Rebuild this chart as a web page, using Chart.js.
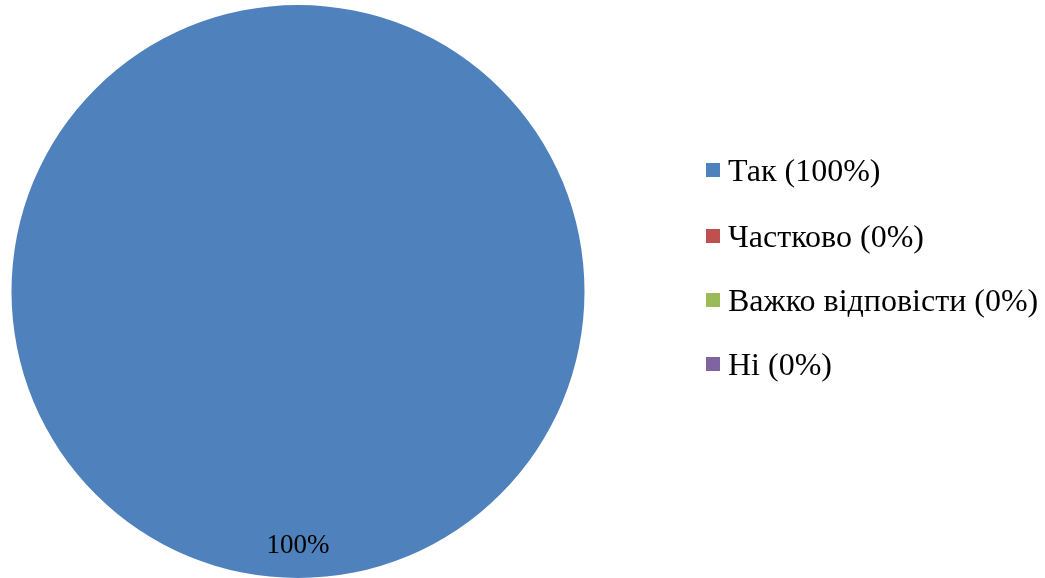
<!DOCTYPE html>
<html>
<head>
<meta charset="utf-8">
<script src="https://cdn.jsdelivr.net/npm/chart.js@4/dist/chart.umd.min.js"></script>
<style>
html,body{margin:0;padding:0;background:#fff;}
#wrap{position:relative;width:1045px;height:578px;}
</style>
</head>
<body>
<div id="wrap"><canvas id="c" width="1045" height="578"></canvas></div>
<script>
const categories = ["Так (100%)", "Частково (0%)", "Важко відповісти (0%)", "Ні (0%)"];
const values = [100, 0, 0, 0];
const valueLabels = ["100%", "0%", "0%", "0%"];
const colors = ["#4F81BD", "#C0504D", "#9BBB59", "#8064A2"];

const FONT = "'Liberation Serif', 'Times New Roman', serif";

const labelPlugin = {
  id: 'sliceLabels',
  afterDatasetsDraw(chart) {
    const ctx = chart.ctx;
    const meta = chart.getDatasetMeta(0);
    ctx.save();
    ctx.font = "27px " + FONT;
    ctx.fillStyle = "#000";
    ctx.textAlign = "center";
    ctx.textBaseline = "middle";
    meta.data.forEach((arc, i) => {
      if (!values[i]) return;
      const p = arc.getProps(['x','y','startAngle','endAngle','outerRadius'], true);
      const mid = (p.startAngle + p.endAngle) / 2;
      const r = p.outerRadius * 0.875;
      ctx.fillText(valueLabels[i], p.x + Math.cos(mid) * r, p.y + Math.sin(mid) * r + 4);
    });
    ctx.restore();
  }
};

const legendPlugin = {
  id: 'customLegend',
  afterDraw(chart) {
    const ctx = chart.ctx;
    const x0 = 706, ys = [170, 236, 300, 364];
    ctx.save();
    ctx.font = "32px " + FONT;
    ctx.textBaseline = "middle";
    ctx.textAlign = "left";
    chart.data.labels.forEach((lab, i) => {
      const y = ys[i];
      ctx.fillStyle = chart.data.datasets[0].backgroundColor[i];
      ctx.fillRect(x0, y - 7, 14, 14);
      ctx.fillStyle = "#000";
      ctx.fillText(lab, x0 + 22, y + 3);
    });
    ctx.restore();
  }
};

new Chart(document.getElementById('c'), {
  type: 'pie',
  data: {
    labels: categories,
    datasets: [{
      data: values,
      backgroundColor: colors,
      borderWidth: 0
    }]
  },
  options: {
    responsive: false,
    animation: false,
    layout: { padding: { left: 11, right: 460, top: 5, bottom: 0 } },
    plugins: { legend: { display: false }, tooltip: { enabled: false } }
  },
  plugins: [labelPlugin, legendPlugin]
});
</script>
</body>
</html>
